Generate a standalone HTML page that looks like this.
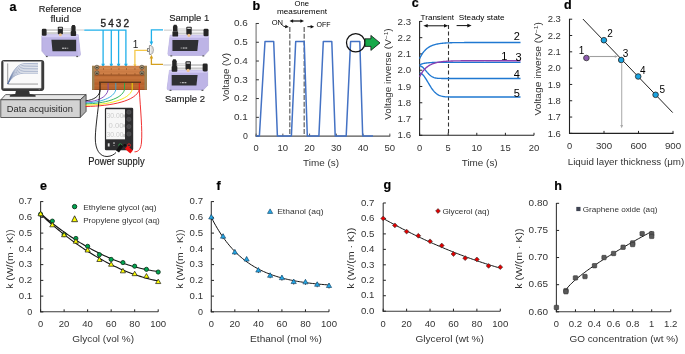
<!DOCTYPE html>
<html><head><meta charset="utf-8"><style>
html,body{margin:0;padding:0;background:#fff;width:685px;height:354px;overflow:hidden}
svg{display:block;will-change:transform;font-family:"Liberation Sans", sans-serif}
</style></head><body>
<svg width="685" height="354" viewBox="0 0 685 354" font-family="Liberation Sans, sans-serif">
<rect width="685" height="354" fill="#fff"/>
<defs>
<g id="pbody">
  <path d="M1,0 L36.9,0 L39.1,19.5 L38.4,21.4 L4.7,21.4 L0.5,16.4 L0.5,1.2 Z" fill="#bdb4e6" stroke="#a096cf" stroke-width="0.5"/>
  <path d="M1,0 L36.9,0 L37.2,2.6 L0.6,2.6 L0.5,1.2 Z" fill="#d4cdf3"/>
  <path d="M36.9,0 L39.1,19.5 L38.4,21.4 L36.6,21.4 L35.2,2.6 L37.2,2.6 Z" fill="#c6beec"/>
  <path d="M10.1,5.1 L34.8,5.1 L34.8,16.5 L11.2,16.5 Z" fill="#2f3033"/>
  <rect x="20.8" y="13" width="1.8" height="1" fill="#e6e6e6"/><rect x="23.2" y="13" width="1.8" height="1" fill="#e6e6e6"/><rect x="25.6" y="13" width="1.4" height="1" fill="#9a9a9a"/>
  <rect x="4.6" y="21.2" width="1.8" height="1.2" fill="#555"/><rect x="35" y="21.2" width="1.8" height="1.2" fill="#555"/>
</g>
<g id="pblocks">
  <line x1="5" y1="-5.0" x2="30" y2="-5.0" stroke="#cfcfcf" stroke-width="1.2"/>
  <line x1="5" y1="-2.0" x2="30" y2="-2.0" stroke="#cfcfcf" stroke-width="1.2"/>
  <line x1="5" y1="-4.2" x2="30" y2="-4.2" stroke="#8a8a8a" stroke-width="0.35"/>
  <line x1="5" y1="-1.2" x2="30" y2="-1.2" stroke="#8a8a8a" stroke-width="0.35"/>
  <rect x="21" y="-5.9" width="8.6" height="2" fill="#e8e8e8" stroke="#aaa" stroke-width="0.3"/>
  <rect x="0.5" y="-6.0" width="4.8" height="7" rx="1.3" fill="#262626"/>
  <rect x="16.5" y="-7.9" width="5.1" height="7.4" rx="0.8" fill="#262626"/>
  <rect x="17.4" y="-7.0" width="3.3" height="1.2" fill="#d0d0d0"/>
  <circle cx="19.1" cy="0.1" r="1.5" fill="#f0c48e"/>
  <rect x="29.4" y="-3.8" width="5.4" height="5.1" rx="0.8" fill="#262626"/>
  <path d="M30,-3.8 L30,-8 L31,-9.8 L33.4,-9.8 L34.3,-8 L34.3,-3.8 Z" fill="#262626"/>
  <line x1="34.8" y1="-4.7" x2="42.8" y2="-4.7" stroke="#d6d6d6" stroke-width="1.3"/>
</g>
</defs>
<!-- Reference fluid text -->
<text x="60.1" y="11.7" font-size="9.5" text-anchor="middle" textLength="42.6" lengthAdjust="spacingAndGlyphs" fill="#222" stroke="#222" stroke-width="0.15">Reference</text>
<text x="59.8" y="21.9" font-size="9.5" text-anchor="middle" textLength="18.7" lengthAdjust="spacingAndGlyphs" fill="#222" stroke="#222" stroke-width="0.15">fluid</text>
<!-- blue lines -->
<path d="M84.2,30.1 L125.9,30.1 L125.9,65" stroke="#1fb0ea" stroke-width="1.3" fill="none"/>
<line x1="103.1" y1="30.1" x2="103.1" y2="65" stroke="#1fb0ea" stroke-width="1.3"/>
<line x1="111.3" y1="30.1" x2="111.3" y2="65" stroke="#1fb0ea" stroke-width="1.3"/>
<line x1="118.6" y1="30.1" x2="118.6" y2="65" stroke="#1fb0ea" stroke-width="1.3"/>
<path d="M101.3,63.8 L104.9,63.8 L103.1,68 Z M109.5,63.8 L113.1,63.8 L111.3,68 Z M116.8,63.8 L120.4,63.8 L118.6,68 Z M124.1,63.8 L127.7,63.8 L125.9,68 Z" fill="#1fb0ea"/>
<text x="103.2" y="27" font-size="10" text-anchor="middle" fill="#222" stroke="#222" stroke-width="0.35">5</text>
<text x="111" y="27" font-size="10" text-anchor="middle" fill="#222" stroke="#222" stroke-width="0.35">4</text>
<text x="118.5" y="27" font-size="10" text-anchor="middle" fill="#222" stroke="#222" stroke-width="0.35">3</text>
<text x="126.4" y="27" font-size="10" text-anchor="middle" fill="#222" stroke="#222" stroke-width="0.35">2</text>
<!-- pumps -->
<use href="#pbody" transform="translate(41.3,34.7)"/>
<use href="#pblocks" transform="translate(41.3,34.7)"/>
<use href="#pbody" transform="translate(209.1,35.2) scale(-1.054,0.95)"/>
<use href="#pblocks" transform="translate(209.1,35.2) scale(-1.054,1.07)"/>
<use href="#pbody" transform="translate(208.2,70.3) scale(-1.05,0.92)"/>
<use href="#pblocks" transform="translate(208.2,70.3) scale(-1.05,1.13)"/>
<text x="189.2" y="21.3" font-size="9.8" text-anchor="middle" textLength="40" lengthAdjust="spacingAndGlyphs" fill="#222" stroke="#222" stroke-width="0.15">Sample 1</text>
<text x="185" y="101.7" font-size="9.8" text-anchor="middle" textLength="40.2" lengthAdjust="spacingAndGlyphs" fill="#222" stroke="#222" stroke-width="0.15">Sample 2</text>
<!-- sample lines -->
<path d="M163,29.8 L151.4,29.8 L151.4,43" stroke="#1fb0ea" stroke-width="1.3" fill="none"/>
<path d="M149.6,41.6 L153.2,41.6 L151.4,45.4 Z" fill="#1fb0ea"/>
<path d="M163,64.3 L151.4,64.3 L151.4,57.5" stroke="#d4a020" stroke-width="1.3" fill="none"/>
<path d="M149.6,58.6 L153.2,58.6 L151.4,54.8 Z" fill="#d4a020"/>
<!-- yellow line 1 -->
<path d="M134.9,67 L134.9,50.3 L148,50.3" stroke="#f5c84a" stroke-width="1.3" fill="none"/>
<text x="135.5" y="48.3" font-size="10" text-anchor="middle" fill="#222">1</text>
<!-- T connector -->
<rect x="147.3" y="48.7" width="2.3" height="2.8" fill="#f2f2f2" stroke="#444" stroke-width="0.6"/>
<path d="M149.4,45.6 L151.2,45.6 Q153.3,46.6 153.3,50 Q153.3,53.4 151.2,54.4 L149.4,54.4 Z" fill="#f4f4f4" stroke="#555" stroke-width="0.6"/>
<line x1="151.3" y1="46.2" x2="151.3" y2="53.8" stroke="#bbb" stroke-width="0.5"/>
<path d="M133.4,64.2 L136.4,64.2 L134.9,67.4 Z" fill="#f5c84a"/>
<!-- monitor -->
<rect x="1.2" y="60.1" width="43" height="30.8" rx="2.8" fill="#3b3b3b"/>
<rect x="3.6" y="61.7" width="37.5" height="26.4" fill="#fafafa" stroke="#cfcfcf" stroke-width="0.4"/>
<path d="M7.7,63.4 L7.7,84.1 L38,84.1" stroke="#606060" stroke-width="0.6" fill="none"/>
<line x1="8" y1="84.1" x2="38" y2="84.1" stroke="#c8c8c8" stroke-width="0.9"/>
<g stroke="#5f75a3" stroke-width="0.5" fill="none">
<path d="M7.8,84 C10.5,76 15,64.5 24,63.6 L38,63.4"/>
<path d="M7.8,84 C10.5,76.5 15,66 24,65.2 L38,65"/>
<path d="M7.8,84 C10.5,77 15,67.5 24,66.8 L38,66.6"/>
<path d="M7.8,84 C10.5,77.5 15,69 24,68.4 L38,68.3"/>
<path d="M7.8,84 C10.5,78 15,70.5 24,70 L38,69.9"/>
<path d="M7.8,84 C10.5,78.5 15,72 24,71.6 L38,71.6"/>
<path d="M7.8,84 C10.5,79 15,73.5 24,73.2 L38,73.2"/>
</g>
<circle cx="39.2" cy="89.6" r="0.6" fill="#888"/>
<path d="M16,90.8 L29,90.8 L29.5,94 L35.6,95.2 L35.6,96.7 L9.8,96.7 L9.8,95.2 L15.5,94 Z" fill="#343434"/>
<!-- DAQ box -->
<path d="M0.8,99.8 L80.2,99.8 L86.1,94.6 L5.6,94.6 Z" fill="#e6e6e6" stroke="#3a3a3a" stroke-width="0.8"/>
<path d="M16,90.8 L29,90.8 L29.5,94 L35.6,95.2 L35.6,96.7 L9.8,96.7 L9.8,95.2 L15.5,94 Z" fill="#343434"/>
<path d="M80.2,99.8 L86.1,94.6 L86.1,111.4 L80.2,117.5 Z" fill="#ababab" stroke="#3a3a3a" stroke-width="0.8"/>
<rect x="0.8" y="99.8" width="79.4" height="17.7" fill="#d3d3d3" stroke="#3a3a3a" stroke-width="0.8"/>
<text x="39.85" y="111.7" font-size="9.4" text-anchor="middle" textLength="66.2" lengthAdjust="spacingAndGlyphs" fill="#2a2a2a">Data acquisition</text>
<!-- manifold -->
<rect x="92" y="65.9" width="54.9" height="23.8" fill="#bf6d35"/>
<rect x="92" y="65.9" width="54.9" height="8.9" fill="#cf8048"/>
<rect x="92" y="67.6" width="54.9" height="1.2" fill="#d8915c" opacity="0.8"/>
<rect x="92" y="71.5" width="54.9" height="0.8" fill="#c67740"/>
<rect x="92" y="74.6" width="54.9" height="0.9" fill="#8e4c22"/>
<rect x="92" y="77.5" width="54.9" height="1" fill="#cc7c44" opacity="0.8"/>
<rect x="92" y="82.4" width="54.9" height="7.3" fill="#b8632c"/>
<rect x="99" y="81.7" width="42" height="1" fill="#3a2412"/>
<rect x="92" y="85.5" width="54.9" height="0.8" fill="#c77440" opacity="0.8"/>
<rect x="92" y="89" width="54.9" height="0.8" fill="#8e4c22"/>
<rect x="92" y="65.9" width="2.4" height="23.8" fill="#9c8456"/>
<rect x="144.5" y="65.9" width="2.4" height="23.8" fill="#9c8456"/>
<circle cx="96.9" cy="67.3" r="2.1" fill="#a09478" stroke="#4a4030" stroke-width="0.6"/><ellipse cx="96.9" cy="67.6" rx="1.1" ry="0.7" fill="#3d3426"/>
<circle cx="96.9" cy="72.9" r="2.1" fill="#a09478" stroke="#4a4030" stroke-width="0.6"/><ellipse cx="96.9" cy="73.2" rx="1.1" ry="0.7" fill="#3d3426"/>
<circle cx="141.9" cy="67.3" r="2.1" fill="#a09478" stroke="#4a4030" stroke-width="0.6"/><ellipse cx="141.9" cy="67.6" rx="1.1" ry="0.7" fill="#3d3426"/>
<circle cx="141.9" cy="72.9" r="2.1" fill="#a09478" stroke="#4a4030" stroke-width="0.6"/><ellipse cx="141.9" cy="73.2" rx="1.1" ry="0.7" fill="#3d3426"/>

<g fill="#7a3d12"><rect x="103" y="68.5" width="0.9" height="0.9"/><rect x="110.8" y="68.5" width="0.9" height="0.9"/><rect x="118.5" y="68.5" width="0.9" height="0.9"/><rect x="126" y="68.5" width="0.9" height="0.9"/><rect x="134.5" y="68.5" width="0.9" height="0.9"/>
<rect x="103" y="73.5" width="0.9" height="0.9"/><rect x="110.8" y="73.5" width="0.9" height="0.9"/><rect x="118.5" y="73.5" width="0.9" height="0.9"/><rect x="126" y="73.5" width="0.9" height="0.9"/><rect x="134.5" y="73.5" width="0.9" height="0.9"/></g>
<!-- rainbow wires -->
<g fill="none" stroke-width="0.9">
<path d="M100,83 L100,89.7 C100,96 94,100 85.7,100.8" stroke="#111"/>
<path d="M108.1,83 L108.1,89.7 C107,97 98,101.5 85.7,101.9" stroke="#7a3fb5"/>
<path d="M115.8,83 L115.8,89.7 C114,98 100,102.5 85.7,102.9" stroke="#2aa9e0"/>
<path d="M124.5,83 L124.5,89.7 C122,99 104,103.5 85.7,103.9" stroke="#1fae4a"/>
<path d="M132.2,83 L132.2,89.7 C129,100 108,104.8 85.7,105.2" stroke="#f2e600"/>
<path d="M139.3,83 L139.3,89.7 C136,101 112,106 85.7,106.5" stroke="#ee1c1c"/>
</g>
<!-- power supply -->
<rect x="104.9" y="107.8" width="28.3" height="42.4" rx="1.3" fill="#2d2d2f"/>
<rect x="106.1" y="109.2" width="18.9" height="30.1" fill="#f7f7f7"/>
<g font-size="8" fill="#cdcdcd" font-family="Liberation Sans, sans-serif">
<text x="106.5" y="117.8" textLength="17" lengthAdjust="spacingAndGlyphs">30.00</text>
<text x="108.6" y="127.6" textLength="15" lengthAdjust="spacingAndGlyphs">0.00</text>
<text x="106.5" y="137.4" textLength="17" lengthAdjust="spacingAndGlyphs">30.00</text>
</g>
<g fill="#a8a8a8"><rect x="123.6" y="114.5" width="1" height="3"/><rect x="123.6" y="124.3" width="1" height="3"/><rect x="123.6" y="134.1" width="1" height="3"/></g>
<g fill="#47474a" stroke="#5c5c5e" stroke-width="0.5">
<circle cx="128.9" cy="112.2" r="2.1"/><circle cx="128.9" cy="119.3" r="2.1"/><circle cx="128.9" cy="126.6" r="2.1"/><circle cx="128.9" cy="134" r="2.1"/>
</g>
<rect x="107.8" y="143.3" width="1.8" height="3.2" fill="#e0e0e0"/>
<rect x="113" y="142.4" width="2" height="1.3" fill="#aaa"/>
<rect x="113" y="145.2" width="2" height="0.8" fill="#777"/>
<circle cx="120.3" cy="145.3" r="1.5" fill="none" stroke="#2c9b4a" stroke-width="0.9"/>
<circle cx="124.8" cy="145.3" r="1.4" fill="#111"/>
<circle cx="129" cy="145.3" r="1.5" fill="none" stroke="#e02020" stroke-width="0.9"/>
<!-- black and red power wires -->
<path d="M100,89.7 C99,105 95.5,125 95.3,138 C95.2,150 100,156.6 107,156.5 C111.5,156.3 114,154.5 116,152.5" fill="none" stroke="#111" stroke-width="0.9"/>
<path d="M116.0,150.5 L120.3,144.3 L123.3,146.3 L119.0,152.5 Z" fill="#111"/>
<path d="M139.3,89.7 C140.5,110 142.5,130 141.5,142 C141,149 138.5,152 134.5,151.8" fill="none" stroke="#ee1c1c" stroke-width="0.9"/>
<path d="M127.5,145.7 L132.9,150.5 L130.3,153.5 L124.9,148.7 Z" fill="#ee1111"/>
<text x="116.4" y="164.8" font-size="10.2" text-anchor="middle" textLength="56.4" lengthAdjust="spacingAndGlyphs" fill="#222" stroke="#222" stroke-width="0.15">Power supply</text>

<text x="9.60" y="10.70" font-size="12.5" font-weight="bold" fill="#000" stroke="#000" stroke-width="0.2" stroke-linejoin="round">a</text>
<text x="252.60" y="9.80" font-size="12.5" font-weight="bold" fill="#000" stroke="#000" stroke-width="0.2" stroke-linejoin="round">b</text>
<text x="411.80" y="7.30" font-size="12.5" font-weight="bold" fill="#000" stroke="#000" stroke-width="0.2" stroke-linejoin="round">c</text>
<text x="563.90" y="8.90" font-size="12.5" font-weight="bold" fill="#000" stroke="#000" stroke-width="0.2" stroke-linejoin="round">d</text>
<text x="39.90" y="190.30" font-size="12.5" font-weight="bold" fill="#000" stroke="#000" stroke-width="0.2" stroke-linejoin="round">e</text>
<text x="216.60" y="189.70" font-size="12.5" font-weight="bold" fill="#000" stroke="#000" stroke-width="0.2" stroke-linejoin="round">f</text>
<text x="383.40" y="189.00" font-size="12.5" font-weight="bold" fill="#000" stroke="#000" stroke-width="0.2" stroke-linejoin="round">g</text>
<text x="554.20" y="190.30" font-size="12.5" font-weight="bold" fill="#000" stroke="#000" stroke-width="0.2" stroke-linejoin="round">h</text>
<line x1="256.10" y1="23.00" x2="256.10" y2="136.60" stroke="#8a8a8a" stroke-width="1.3"/>
<line x1="255.50" y1="136.10" x2="390.20" y2="136.10" stroke="#555" stroke-width="1.1"/>
<line x1="256.10" y1="136.10" x2="258.90" y2="136.10" stroke="#333" stroke-width="1"/>
<text x="247.90" y="138.90" font-size="9" text-anchor="end" fill="#333" textLength="4.90" lengthAdjust="spacingAndGlyphs">0</text>
<line x1="256.10" y1="117.33" x2="258.90" y2="117.33" stroke="#333" stroke-width="1"/>
<text x="247.90" y="120.13" font-size="9" text-anchor="end" fill="#333" textLength="13.80" lengthAdjust="spacingAndGlyphs">0.1</text>
<line x1="256.10" y1="98.56" x2="258.90" y2="98.56" stroke="#333" stroke-width="1"/>
<text x="247.90" y="101.36" font-size="9" text-anchor="end" fill="#333" textLength="13.80" lengthAdjust="spacingAndGlyphs">0.2</text>
<line x1="256.10" y1="79.79" x2="258.90" y2="79.79" stroke="#333" stroke-width="1"/>
<text x="247.90" y="82.59" font-size="9" text-anchor="end" fill="#333" textLength="13.80" lengthAdjust="spacingAndGlyphs">0.3</text>
<line x1="256.10" y1="61.02" x2="258.90" y2="61.02" stroke="#333" stroke-width="1"/>
<text x="247.90" y="63.82" font-size="9" text-anchor="end" fill="#333" textLength="13.80" lengthAdjust="spacingAndGlyphs">0.4</text>
<line x1="256.10" y1="42.25" x2="258.90" y2="42.25" stroke="#333" stroke-width="1"/>
<text x="247.90" y="45.05" font-size="9" text-anchor="end" fill="#333" textLength="13.80" lengthAdjust="spacingAndGlyphs">0.5</text>
<line x1="256.10" y1="23.48" x2="258.90" y2="23.48" stroke="#333" stroke-width="1"/>
<text x="247.90" y="26.28" font-size="9" text-anchor="end" fill="#333" textLength="13.80" lengthAdjust="spacingAndGlyphs">0.6</text>
<line x1="256.10" y1="136.10" x2="256.10" y2="133.60" stroke="#555" stroke-width="1"/>
<text x="256.10" y="150.80" font-size="9" text-anchor="middle" fill="#333" textLength="5.20" lengthAdjust="spacingAndGlyphs">0</text>
<line x1="282.85" y1="136.10" x2="282.85" y2="133.60" stroke="#555" stroke-width="1"/>
<text x="282.85" y="150.80" font-size="9" text-anchor="middle" fill="#333" textLength="10.60" lengthAdjust="spacingAndGlyphs">10</text>
<line x1="309.60" y1="136.10" x2="309.60" y2="133.60" stroke="#555" stroke-width="1"/>
<text x="309.60" y="150.80" font-size="9" text-anchor="middle" fill="#333" textLength="10.60" lengthAdjust="spacingAndGlyphs">20</text>
<line x1="336.35" y1="136.10" x2="336.35" y2="133.60" stroke="#555" stroke-width="1"/>
<text x="336.35" y="150.80" font-size="9" text-anchor="middle" fill="#333" textLength="10.60" lengthAdjust="spacingAndGlyphs">30</text>
<line x1="363.10" y1="136.10" x2="363.10" y2="133.60" stroke="#555" stroke-width="1"/>
<text x="363.10" y="150.80" font-size="9" text-anchor="middle" fill="#333" textLength="10.60" lengthAdjust="spacingAndGlyphs">40</text>
<line x1="389.85" y1="136.10" x2="389.85" y2="133.60" stroke="#555" stroke-width="1"/>
<text x="389.85" y="150.80" font-size="9" text-anchor="middle" fill="#333" textLength="10.60" lengthAdjust="spacingAndGlyphs">50</text>
<text x="321.10" y="165.50" font-size="9.3" text-anchor="middle" fill="#333" textLength="36.00" lengthAdjust="spacingAndGlyphs">Time (s)</text>
<text x="229.00" y="77.00" font-size="9" text-anchor="middle" fill="#333" textLength="48.00" lengthAdjust="spacingAndGlyphs" transform="rotate(-90 229.00 77.00)">Voltage (V)</text>
<line x1="289.80" y1="27.00" x2="289.80" y2="136.10" stroke="#6b6b6b" stroke-width="1.3" stroke-dasharray="5,1.8"/>
<line x1="304.20" y1="27.00" x2="304.20" y2="136.10" stroke="#6b6b6b" stroke-width="1.3" stroke-dasharray="5,1.8"/>
<path d="M256.10,135.90 L259.40,135.90 L265.00,41.50 L273.70,41.50 L277.40,135.90 L291.40,135.90 L295.70,41.50 L304.20,41.50 L307.30,135.90 L318.90,135.90 L323.30,41.50 L331.80,41.50 L335.20,135.90 L346.20,135.90 L350.60,41.50 L359.80,41.50 L362.70,135.90 L373.00,135.90" stroke="#4472C4" stroke-width="1.5" fill="none" stroke-linejoin="round"/>
<text x="301.70" y="6.20" font-size="7.5" text-anchor="middle" textLength="14.50" lengthAdjust="spacingAndGlyphs">One</text>
<text x="302.00" y="14.30" font-size="7.5" text-anchor="middle" textLength="50.00" lengthAdjust="spacingAndGlyphs">measurement</text>
<text x="271.70" y="25.30" font-size="7.5" textLength="11.30" lengthAdjust="spacingAndGlyphs">ON</text>
<text x="316.60" y="26.80" font-size="7.5" textLength="14.00" lengthAdjust="spacingAndGlyphs">OFF</text>
<path d="M282.2,24.8 L283.6,26.4 L285.5,26.6" stroke="#111" stroke-width="0.9" fill="none"/>
<path d="M288.80,27.00 L284.97,28.25 L285.51,24.69 Z" stroke="none" stroke-width="1" fill="#111"/>
<line x1="292.00" y1="21.00" x2="301.50" y2="21.00" stroke="#111" stroke-width="1.25"/>
<path d="M289.50,21.00 L293.10,19.20 L293.10,22.80 Z" stroke="none" stroke-width="1" fill="#111"/>
<path d="M304.00,21.00 L300.40,22.80 L300.40,19.20 Z" stroke="none" stroke-width="1" fill="#111"/>
<line x1="307.40" y1="26.70" x2="311.50" y2="26.70" stroke="#111" stroke-width="1.0"/>
<path d="M314.20,26.70 L310.60,28.50 L310.60,24.90 Z" stroke="none" stroke-width="1" fill="#111"/>
<circle cx="355.70" cy="42.70" r="9.2" fill="none" stroke="#111" stroke-width="1.25"/>
<path d="M365.0,38.8 L370.9,38.8 L370.9,35.4 L380.0,42.9 L370.9,50.4 L370.9,46.4 L365.0,46.4 Z" stroke="#111" stroke-width="0.8" fill="#17a94a" stroke-linejoin="miter"/>
<line x1="419.60" y1="21.00" x2="419.60" y2="135.80" stroke="#222" stroke-width="1.1"/>
<line x1="419.10" y1="135.30" x2="534.00" y2="135.30" stroke="#222" stroke-width="1.1"/>
<line x1="419.60" y1="135.29" x2="422.30" y2="135.29" stroke="#222" stroke-width="1"/>
<text x="411.10" y="138.49" font-size="9" text-anchor="end" fill="#333" textLength="13.50" lengthAdjust="spacingAndGlyphs">1.6</text>
<line x1="419.60" y1="119.02" x2="422.30" y2="119.02" stroke="#222" stroke-width="1"/>
<text x="411.10" y="122.22" font-size="9" text-anchor="end" fill="#333" textLength="13.50" lengthAdjust="spacingAndGlyphs">1.7</text>
<line x1="419.60" y1="102.75" x2="422.30" y2="102.75" stroke="#222" stroke-width="1"/>
<text x="411.10" y="105.95" font-size="9" text-anchor="end" fill="#333" textLength="13.50" lengthAdjust="spacingAndGlyphs">1.8</text>
<line x1="419.60" y1="86.48" x2="422.30" y2="86.48" stroke="#222" stroke-width="1"/>
<text x="411.10" y="89.68" font-size="9" text-anchor="end" fill="#333" textLength="13.50" lengthAdjust="spacingAndGlyphs">1.9</text>
<line x1="419.60" y1="70.21" x2="422.30" y2="70.21" stroke="#222" stroke-width="1"/>
<text x="411.10" y="73.41" font-size="9" text-anchor="end" fill="#333" textLength="13.50" lengthAdjust="spacingAndGlyphs">2.0</text>
<line x1="419.60" y1="53.94" x2="422.30" y2="53.94" stroke="#222" stroke-width="1"/>
<text x="411.10" y="57.14" font-size="9" text-anchor="end" fill="#333" textLength="13.50" lengthAdjust="spacingAndGlyphs">2.1</text>
<line x1="419.60" y1="37.67" x2="422.30" y2="37.67" stroke="#222" stroke-width="1"/>
<text x="411.10" y="40.87" font-size="9" text-anchor="end" fill="#333" textLength="13.50" lengthAdjust="spacingAndGlyphs">2.2</text>
<line x1="419.60" y1="21.40" x2="422.30" y2="21.40" stroke="#222" stroke-width="1"/>
<text x="411.10" y="24.60" font-size="9" text-anchor="end" fill="#333" textLength="13.50" lengthAdjust="spacingAndGlyphs">2.3</text>
<line x1="419.60" y1="135.30" x2="419.60" y2="132.80" stroke="#222" stroke-width="1"/>
<text x="419.60" y="150.90" font-size="9" text-anchor="middle" fill="#333" textLength="5.20" lengthAdjust="spacingAndGlyphs">0</text>
<line x1="448.20" y1="135.30" x2="448.20" y2="132.80" stroke="#222" stroke-width="1"/>
<text x="448.20" y="150.90" font-size="9" text-anchor="middle" fill="#333" textLength="5.20" lengthAdjust="spacingAndGlyphs">5</text>
<line x1="476.80" y1="135.30" x2="476.80" y2="132.80" stroke="#222" stroke-width="1"/>
<text x="476.80" y="150.90" font-size="9" text-anchor="middle" fill="#333" textLength="10.60" lengthAdjust="spacingAndGlyphs">10</text>
<line x1="505.40" y1="135.30" x2="505.40" y2="132.80" stroke="#222" stroke-width="1"/>
<text x="505.40" y="150.90" font-size="9" text-anchor="middle" fill="#333" textLength="10.60" lengthAdjust="spacingAndGlyphs">15</text>
<line x1="534.00" y1="135.30" x2="534.00" y2="132.80" stroke="#222" stroke-width="1"/>
<text x="534.00" y="150.90" font-size="9" text-anchor="middle" fill="#333" textLength="10.60" lengthAdjust="spacingAndGlyphs">20</text>
<text x="479.70" y="165.60" font-size="9.3" text-anchor="middle" fill="#333" textLength="36.00" lengthAdjust="spacingAndGlyphs">Time (s)</text>
<text x="391.30" y="74.10" font-size="9" text-anchor="middle" fill="#333" textLength="91.50" lengthAdjust="spacingAndGlyphs" transform="rotate(-90 391.30 74.10)">Voltage inverse (V<tspan font-size="6" dy="-3">−1</tspan><tspan dy="3">)</tspan></text>
<line x1="448.50" y1="25.00" x2="448.50" y2="135.30" stroke="#333" stroke-width="1.1" stroke-dasharray="4,2.5"/>
<text x="420.60" y="19.80" font-size="8" textLength="33.30" lengthAdjust="spacingAndGlyphs">Transient</text>
<text x="458.80" y="19.80" font-size="8" textLength="45.80" lengthAdjust="spacingAndGlyphs">Steady state</text>
<line x1="426.00" y1="25.80" x2="445.80" y2="25.80" stroke="#111" stroke-width="1.0"/>
<path d="M423.40,25.80 L427.70,23.99 L427.70,27.61 Z" stroke="none" stroke-width="1" fill="#111"/>
<path d="M448.30,25.80 L444.00,27.61 L444.00,23.99 Z" stroke="none" stroke-width="1" fill="#111"/>
<line x1="456.60" y1="25.60" x2="468.50" y2="25.60" stroke="#111" stroke-width="1.0"/>
<path d="M471.60,25.60 L467.30,27.41 L467.30,23.79 Z" stroke="none" stroke-width="1" fill="#111"/>
<path d="M419.60,58.60 L420.45,56.88 L421.30,55.34 L422.14,53.97 L422.99,52.74 L423.84,51.65 L424.69,50.67 L425.54,49.80 L426.38,49.02 L427.23,48.32 L428.08,47.70 L428.93,47.14 L429.77,46.65 L430.62,46.20 L431.47,45.81 L432.32,45.45 L433.17,45.14 L434.01,44.86 L434.86,44.60 L435.71,44.38 L436.56,44.18 L437.41,44.00 L438.25,43.84 L439.10,43.70 L439.95,43.57 L440.80,43.45 L441.65,43.35 L442.49,43.26 L443.34,43.18 L444.19,43.11 L445.04,43.04 L445.88,42.98 L446.73,42.93 L447.58,42.89 L448.43,42.84 L449.28,42.81 L450.12,42.77 L450.97,42.75 L451.82,42.72 L452.67,42.70 L453.52,42.67 L454.36,42.66 L455.21,42.64 L456.06,42.62 L456.91,42.61 L457.76,42.60 L458.60,42.59 L459.45,42.58 L460.30,42.57 L461.15,42.56 L461.99,42.56 L462.84,42.55 L463.69,42.55 L464.54,42.54 L465.39,42.54 L466.23,42.53 L467.08,42.53 L467.93,42.53 L468.78,42.52 L469.63,42.52 L470.47,42.52 L471.32,42.52 L472.17,42.51 L473.02,42.51 L473.87,42.51 L474.71,42.51 L475.56,42.51 L476.41,42.51 L477.26,42.51 L478.11,42.51 L478.95,42.51 L479.80,42.51 L480.65,42.50 L481.50,42.50 L482.34,42.50 L483.19,42.50 L484.04,42.50 L484.89,42.50 L485.74,42.50 L486.58,42.50 L487.43,42.50 L488.28,42.50 L489.13,42.50 L489.98,42.50 L490.82,42.50 L491.67,42.50 L492.52,42.50 L493.37,42.50 L494.22,42.50 L495.06,42.50 L495.91,42.50 L496.76,42.50 L497.61,42.50 L498.45,42.50 L499.30,42.50 L500.15,42.50 L501.00,42.50 L501.85,42.50 L502.69,42.50 L503.54,42.50 L504.39,42.50 L505.24,42.50 L506.09,42.50 L506.93,42.50 L507.78,42.50 L508.63,42.50 L509.48,42.50 L510.33,42.50 L511.17,42.50 L512.02,42.50 L512.87,42.50 L513.72,42.50 L514.56,42.50 L515.41,42.50 L516.26,42.50 L517.11,42.50 L517.96,42.50 L518.80,42.50 L519.65,42.50 L520.50,42.50" stroke="#1f78d1" stroke-width="1.35" fill="none"/>
<path d="M419.60,65.00 L420.45,64.58 L421.30,64.22 L422.14,63.92 L422.99,63.67 L423.84,63.46 L424.69,63.28 L425.54,63.12 L426.38,63.00 L427.23,62.89 L428.08,62.80 L428.93,62.72 L429.77,62.65 L430.62,62.60 L431.47,62.55 L432.32,62.51 L433.17,62.48 L434.01,62.45 L434.86,62.43 L435.71,62.41 L436.56,62.39 L437.41,62.38 L438.25,62.36 L439.10,62.35 L439.95,62.35 L440.80,62.34 L441.65,62.33 L442.49,62.33 L443.34,62.32 L444.19,62.32 L445.04,62.32 L445.88,62.31 L446.73,62.31 L447.58,62.31 L448.43,62.31 L449.28,62.31 L450.12,62.31 L450.97,62.31 L451.82,62.30 L452.67,62.30 L453.52,62.30 L454.36,62.30 L455.21,62.30 L456.06,62.30 L456.91,62.30 L457.76,62.30 L458.60,62.30 L459.45,62.30 L460.30,62.30 L461.15,62.30 L461.99,62.30 L462.84,62.30 L463.69,62.30 L464.54,62.30 L465.39,62.30 L466.23,62.30 L467.08,62.30 L467.93,62.30 L468.78,62.30 L469.63,62.30 L470.47,62.30 L471.32,62.30 L472.17,62.30 L473.02,62.30 L473.87,62.30 L474.71,62.30 L475.56,62.30 L476.41,62.30 L477.26,62.30 L478.11,62.30 L478.95,62.30 L479.80,62.30 L480.65,62.30 L481.50,62.30 L482.34,62.30 L483.19,62.30 L484.04,62.30 L484.89,62.30 L485.74,62.30 L486.58,62.30 L487.43,62.30 L488.28,62.30 L489.13,62.30 L489.98,62.30 L490.82,62.30 L491.67,62.30 L492.52,62.30 L493.37,62.30 L494.22,62.30 L495.06,62.30 L495.91,62.30 L496.76,62.30 L497.61,62.30 L498.45,62.30 L499.30,62.30 L500.15,62.30 L501.00,62.30 L501.85,62.30 L502.69,62.30 L503.54,62.30 L504.39,62.30 L505.24,62.30 L506.09,62.30 L506.93,62.30 L507.78,62.30 L508.63,62.30 L509.48,62.30 L510.33,62.30 L511.17,62.30 L512.02,62.30 L512.87,62.30 L513.72,62.30 L514.56,62.30 L515.41,62.30 L516.26,62.30 L517.11,62.30 L517.96,62.30 L518.80,62.30 L519.65,62.30 L520.50,62.30" stroke="#1f78d1" stroke-width="1.35" fill="none"/>
<path d="M419.60,65.90 L420.45,66.01 L421.30,66.34 L422.14,66.87 L422.99,67.57 L423.84,68.41 L424.69,69.35 L425.54,70.34 L426.38,71.36 L427.23,72.36 L428.08,73.31 L428.93,74.20 L429.77,74.99 L430.62,75.69 L431.47,76.29 L432.32,76.79 L433.17,77.20 L434.01,77.53 L434.86,77.79 L435.71,77.99 L436.56,78.14 L437.41,78.25 L438.25,78.33 L439.10,78.38 L439.95,78.42 L440.80,78.45 L441.65,78.47 L442.49,78.48 L443.34,78.49 L444.19,78.49 L445.04,78.50 L445.88,78.50 L446.73,78.50 L447.58,78.50 L448.43,78.50 L449.28,78.50 L450.12,78.50 L450.97,78.50 L451.82,78.50 L452.67,78.50 L453.52,78.50 L454.36,78.50 L455.21,78.50 L456.06,78.50 L456.91,78.50 L457.76,78.50 L458.60,78.50 L459.45,78.50 L460.30,78.50 L461.15,78.50 L461.99,78.50 L462.84,78.50 L463.69,78.50 L464.54,78.50 L465.39,78.50 L466.23,78.50 L467.08,78.50 L467.93,78.50 L468.78,78.50 L469.63,78.50 L470.47,78.50 L471.32,78.50 L472.17,78.50 L473.02,78.50 L473.87,78.50 L474.71,78.50 L475.56,78.50 L476.41,78.50 L477.26,78.50 L478.11,78.50 L478.95,78.50 L479.80,78.50 L480.65,78.50 L481.50,78.50 L482.34,78.50 L483.19,78.50 L484.04,78.50 L484.89,78.50 L485.74,78.50 L486.58,78.50 L487.43,78.50 L488.28,78.50 L489.13,78.50 L489.98,78.50 L490.82,78.50 L491.67,78.50 L492.52,78.50 L493.37,78.50 L494.22,78.50 L495.06,78.50 L495.91,78.50 L496.76,78.50 L497.61,78.50 L498.45,78.50 L499.30,78.50 L500.15,78.50 L501.00,78.50 L501.85,78.50 L502.69,78.50 L503.54,78.50 L504.39,78.50 L505.24,78.50 L506.09,78.50 L506.93,78.50 L507.78,78.50 L508.63,78.50 L509.48,78.50 L510.33,78.50 L511.17,78.50 L512.02,78.50 L512.87,78.50 L513.72,78.50 L514.56,78.50 L515.41,78.50 L516.26,78.50 L517.11,78.50 L517.96,78.50 L518.80,78.50 L519.65,78.50 L520.50,78.50" stroke="#1f78d1" stroke-width="1.35" fill="none"/>
<path d="M419.60,73.10 L420.45,73.22 L421.30,73.57 L422.14,74.15 L422.99,74.93 L423.84,75.90 L424.69,77.03 L425.54,78.29 L426.38,79.64 L427.23,81.05 L428.08,82.49 L428.93,83.94 L429.77,85.35 L430.62,86.72 L431.47,88.02 L432.32,89.23 L433.17,90.34 L434.01,91.35 L434.86,92.26 L435.71,93.06 L436.56,93.76 L437.41,94.36 L438.25,94.87 L439.10,95.30 L439.95,95.65 L440.80,95.95 L441.65,96.18 L442.49,96.37 L443.34,96.52 L444.19,96.64 L445.04,96.73 L445.88,96.80 L446.73,96.86 L447.58,96.90 L448.43,96.93 L449.28,96.95 L450.12,96.96 L450.97,96.97 L451.82,96.98 L452.67,96.99 L453.52,96.99 L454.36,96.99 L455.21,97.00 L456.06,97.00 L456.91,97.00 L457.76,97.00 L458.60,97.00 L459.45,97.00 L460.30,97.00 L461.15,97.00 L461.99,97.00 L462.84,97.00 L463.69,97.00 L464.54,97.00 L465.39,97.00 L466.23,97.00 L467.08,97.00 L467.93,97.00 L468.78,97.00 L469.63,97.00 L470.47,97.00 L471.32,97.00 L472.17,97.00 L473.02,97.00 L473.87,97.00 L474.71,97.00 L475.56,97.00 L476.41,97.00 L477.26,97.00 L478.11,97.00 L478.95,97.00 L479.80,97.00 L480.65,97.00 L481.50,97.00 L482.34,97.00 L483.19,97.00 L484.04,97.00 L484.89,97.00 L485.74,97.00 L486.58,97.00 L487.43,97.00 L488.28,97.00 L489.13,97.00 L489.98,97.00 L490.82,97.00 L491.67,97.00 L492.52,97.00 L493.37,97.00 L494.22,97.00 L495.06,97.00 L495.91,97.00 L496.76,97.00 L497.61,97.00 L498.45,97.00 L499.30,97.00 L500.15,97.00 L501.00,97.00 L501.85,97.00 L502.69,97.00 L503.54,97.00 L504.39,97.00 L505.24,97.00 L506.09,97.00 L506.93,97.00 L507.78,97.00 L508.63,97.00 L509.48,97.00 L510.33,97.00 L511.17,97.00 L512.02,97.00 L512.87,97.00 L513.72,97.00 L514.56,97.00 L515.41,97.00 L516.26,97.00 L517.11,97.00 L517.96,97.00 L518.80,97.00 L519.65,97.00 L520.50,97.00" stroke="#1f78d1" stroke-width="1.35" fill="none"/>
<path d="M419.60,76.70 L420.45,75.09 L421.30,73.64 L422.14,72.34 L422.99,71.17 L423.84,70.12 L424.69,69.17 L425.54,68.32 L426.38,67.55 L427.23,66.86 L428.08,66.24 L428.93,65.69 L429.77,65.19 L430.62,64.73 L431.47,64.33 L432.32,63.96 L433.17,63.64 L434.01,63.34 L434.86,63.07 L435.71,62.84 L436.56,62.62 L437.41,62.43 L438.25,62.25 L439.10,62.10 L439.95,61.96 L440.80,61.83 L441.65,61.72 L442.49,61.61 L443.34,61.52 L444.19,61.44 L445.04,61.37 L445.88,61.30 L446.73,61.24 L447.58,61.18 L448.43,61.14 L449.28,61.09 L450.12,61.05 L450.97,61.02 L451.82,60.99 L452.67,60.96 L453.52,60.93 L454.36,60.91 L455.21,60.89 L456.06,60.87 L456.91,60.85 L457.76,60.84 L458.60,60.82 L459.45,60.81 L460.30,60.80 L461.15,60.79 L461.99,60.78 L462.84,60.77 L463.69,60.76 L464.54,60.76 L465.39,60.75 L466.23,60.75 L467.08,60.74 L467.93,60.74 L468.78,60.73 L469.63,60.73 L470.47,60.73 L471.32,60.72 L472.17,60.72 L473.02,60.72 L473.87,60.72 L474.71,60.72 L475.56,60.71 L476.41,60.71 L477.26,60.71 L478.11,60.71 L478.95,60.71 L479.80,60.71 L480.65,60.71 L481.50,60.71 L482.34,60.71 L483.19,60.71 L484.04,60.71 L484.89,60.70 L485.74,60.70 L486.58,60.70 L487.43,60.70 L488.28,60.70 L489.13,60.70 L489.98,60.70 L490.82,60.70 L491.67,60.70 L492.52,60.70 L493.37,60.70 L494.22,60.70 L495.06,60.70 L495.91,60.70 L496.76,60.70 L497.61,60.70 L498.45,60.70 L499.30,60.70 L500.15,60.70 L501.00,60.70 L501.85,60.70 L502.69,60.70 L503.54,60.70 L504.39,60.70 L505.24,60.70 L506.09,60.70 L506.93,60.70 L507.78,60.70 L508.63,60.70 L509.48,60.70 L510.33,60.70 L511.17,60.70 L512.02,60.70 L512.87,60.70 L513.72,60.70 L514.56,60.70 L515.41,60.70 L516.26,60.70 L517.11,60.70 L517.96,60.70 L518.80,60.70 L519.65,60.70 L520.50,60.70" stroke="#8a3fb0" stroke-width="1.35" fill="none"/>
<text x="516.70" y="40.10" font-size="11" text-anchor="middle">2</text>
<text x="504.30" y="60.40" font-size="11" text-anchor="middle">1</text>
<text x="518.50" y="60.70" font-size="11" text-anchor="middle">3</text>
<text x="516.70" y="77.90" font-size="11" text-anchor="middle">4</text>
<text x="516.80" y="97.10" font-size="11" text-anchor="middle">5</text>
<line x1="569.50" y1="18.80" x2="569.50" y2="133.90" stroke="#222" stroke-width="1.1"/>
<line x1="569.00" y1="133.40" x2="673.50" y2="133.40" stroke="#222" stroke-width="1.1"/>
<line x1="569.50" y1="133.37" x2="572.20" y2="133.37" stroke="#222" stroke-width="1"/>
<text x="560.90" y="136.57" font-size="9" text-anchor="end" fill="#333" textLength="13.20" lengthAdjust="spacingAndGlyphs">1.6</text>
<line x1="569.50" y1="117.06" x2="572.20" y2="117.06" stroke="#222" stroke-width="1"/>
<text x="560.90" y="120.26" font-size="9" text-anchor="end" fill="#333" textLength="13.20" lengthAdjust="spacingAndGlyphs">1.7</text>
<line x1="569.50" y1="100.75" x2="572.20" y2="100.75" stroke="#222" stroke-width="1"/>
<text x="560.90" y="103.95" font-size="9" text-anchor="end" fill="#333" textLength="13.20" lengthAdjust="spacingAndGlyphs">1.8</text>
<line x1="569.50" y1="84.44" x2="572.20" y2="84.44" stroke="#222" stroke-width="1"/>
<text x="560.90" y="87.64" font-size="9" text-anchor="end" fill="#333" textLength="13.20" lengthAdjust="spacingAndGlyphs">1.9</text>
<line x1="569.50" y1="68.13" x2="572.20" y2="68.13" stroke="#222" stroke-width="1"/>
<text x="560.90" y="71.33" font-size="9" text-anchor="end" fill="#333" textLength="13.20" lengthAdjust="spacingAndGlyphs">2.0</text>
<line x1="569.50" y1="51.82" x2="572.20" y2="51.82" stroke="#222" stroke-width="1"/>
<text x="560.90" y="55.02" font-size="9" text-anchor="end" fill="#333" textLength="13.20" lengthAdjust="spacingAndGlyphs">2.1</text>
<line x1="569.50" y1="35.51" x2="572.20" y2="35.51" stroke="#222" stroke-width="1"/>
<text x="560.90" y="38.71" font-size="9" text-anchor="end" fill="#333" textLength="13.20" lengthAdjust="spacingAndGlyphs">2.2</text>
<line x1="569.50" y1="19.20" x2="572.20" y2="19.20" stroke="#222" stroke-width="1"/>
<text x="560.90" y="22.40" font-size="9" text-anchor="end" fill="#333" textLength="13.20" lengthAdjust="spacingAndGlyphs">2.3</text>
<line x1="569.50" y1="133.40" x2="569.50" y2="130.90" stroke="#222" stroke-width="1"/>
<text x="569.50" y="149.20" font-size="9" text-anchor="middle" fill="#333" textLength="5.20" lengthAdjust="spacingAndGlyphs">0</text>
<line x1="604.00" y1="133.40" x2="604.00" y2="130.90" stroke="#222" stroke-width="1"/>
<text x="604.00" y="149.20" font-size="9" text-anchor="middle" fill="#333" textLength="16.20" lengthAdjust="spacingAndGlyphs">300</text>
<line x1="638.50" y1="133.40" x2="638.50" y2="130.90" stroke="#222" stroke-width="1"/>
<text x="638.50" y="149.20" font-size="9" text-anchor="middle" fill="#333" textLength="16.20" lengthAdjust="spacingAndGlyphs">600</text>
<line x1="673.00" y1="133.40" x2="673.00" y2="130.90" stroke="#222" stroke-width="1"/>
<text x="673.00" y="149.20" font-size="9" text-anchor="middle" fill="#333" textLength="16.20" lengthAdjust="spacingAndGlyphs">900</text>
<text x="626.00" y="165.00" font-size="9" text-anchor="middle" fill="#333" textLength="116.50" lengthAdjust="spacingAndGlyphs">Liquid layer thickness (μm)</text>
<text x="541.20" y="68.80" font-size="9" text-anchor="middle" fill="#333" textLength="93.50" lengthAdjust="spacingAndGlyphs" transform="rotate(-90 541.20 68.80)">Voltage inverse (V<tspan font-size="6" dy="-3">−1</tspan><tspan dy="3">)</tspan></text>
<line x1="582.90" y1="19.00" x2="672.70" y2="112.60" stroke="#222" stroke-width="1"/>
<line x1="589.50" y1="56.50" x2="615.00" y2="56.50" stroke="#a0a0a0" stroke-width="1.1"/>
<path d="M618.00,56.50 L614.80,57.84 L614.80,55.16 Z" stroke="none" stroke-width="1" fill="#a0a0a0"/>
<line x1="621.70" y1="63.50" x2="621.70" y2="125.00" stroke="#b0b0b0" stroke-width="1.1"/>
<path d="M621.70,128.30 L620.27,124.90 L623.13,124.90 Z" stroke="none" stroke-width="1" fill="#a8a8a8"/>
<circle cx="586.40" cy="58.00" r="2.8" fill="#8e5bb0" stroke="#333" stroke-width="0.8"/>
<circle cx="603.90" cy="40.20" r="2.8" fill="#1aa3e0" stroke="#222" stroke-width="0.8"/>
<circle cx="621.20" cy="60.00" r="2.8" fill="#1aa3e0" stroke="#222" stroke-width="0.8"/>
<circle cx="638.20" cy="76.50" r="2.8" fill="#1aa3e0" stroke="#222" stroke-width="0.8"/>
<circle cx="655.60" cy="94.80" r="2.8" fill="#1aa3e0" stroke="#222" stroke-width="0.8"/>
<text x="581.60" y="53.60" font-size="10" text-anchor="middle">1</text>
<text x="610.00" y="36.60" font-size="10" text-anchor="middle">2</text>
<text x="625.50" y="56.50" font-size="10" text-anchor="middle">3</text>
<text x="642.80" y="73.80" font-size="10" text-anchor="middle">4</text>
<text x="662.40" y="93.40" font-size="10" text-anchor="middle">5</text>
<line x1="40.60" y1="201.20" x2="40.60" y2="312.30" stroke="#3a3a3a" stroke-width="1.1"/>
<line x1="40.10" y1="311.80" x2="158.20" y2="311.80" stroke="#3a3a3a" stroke-width="1.1"/>
<line x1="40.60" y1="311.90" x2="43.30" y2="311.90" stroke="#222" stroke-width="1"/>
<text x="32.20" y="314.60" font-size="9" text-anchor="end" fill="#333" textLength="5.00" lengthAdjust="spacingAndGlyphs">0</text>
<line x1="40.60" y1="296.14" x2="43.30" y2="296.14" stroke="#222" stroke-width="1"/>
<text x="32.20" y="298.84" font-size="9" text-anchor="end" fill="#333" textLength="13.40" lengthAdjust="spacingAndGlyphs">0.1</text>
<line x1="40.60" y1="280.38" x2="43.30" y2="280.38" stroke="#222" stroke-width="1"/>
<text x="32.20" y="283.08" font-size="9" text-anchor="end" fill="#333" textLength="13.40" lengthAdjust="spacingAndGlyphs">0.2</text>
<line x1="40.60" y1="264.62" x2="43.30" y2="264.62" stroke="#222" stroke-width="1"/>
<text x="32.20" y="267.32" font-size="9" text-anchor="end" fill="#333" textLength="13.40" lengthAdjust="spacingAndGlyphs">0.3</text>
<line x1="40.60" y1="248.86" x2="43.30" y2="248.86" stroke="#222" stroke-width="1"/>
<text x="32.20" y="251.56" font-size="9" text-anchor="end" fill="#333" textLength="13.40" lengthAdjust="spacingAndGlyphs">0.4</text>
<line x1="40.60" y1="233.10" x2="43.30" y2="233.10" stroke="#222" stroke-width="1"/>
<text x="32.20" y="235.80" font-size="9" text-anchor="end" fill="#333" textLength="13.40" lengthAdjust="spacingAndGlyphs">0.5</text>
<line x1="40.60" y1="217.34" x2="43.30" y2="217.34" stroke="#222" stroke-width="1"/>
<text x="32.20" y="220.04" font-size="9" text-anchor="end" fill="#333" textLength="13.40" lengthAdjust="spacingAndGlyphs">0.6</text>
<line x1="40.60" y1="201.58" x2="43.30" y2="201.58" stroke="#222" stroke-width="1"/>
<text x="32.20" y="204.28" font-size="9" text-anchor="end" fill="#333" textLength="13.40" lengthAdjust="spacingAndGlyphs">0.7</text>
<line x1="40.60" y1="311.80" x2="40.60" y2="309.30" stroke="#222" stroke-width="1"/>
<text x="40.60" y="326.60" font-size="9" text-anchor="middle" fill="#333" textLength="5.20" lengthAdjust="spacingAndGlyphs">0</text>
<line x1="64.12" y1="311.80" x2="64.12" y2="309.30" stroke="#222" stroke-width="1"/>
<text x="64.12" y="326.60" font-size="9" text-anchor="middle" fill="#333" textLength="10.60" lengthAdjust="spacingAndGlyphs">20</text>
<line x1="87.64" y1="311.80" x2="87.64" y2="309.30" stroke="#222" stroke-width="1"/>
<text x="87.64" y="326.60" font-size="9" text-anchor="middle" fill="#333" textLength="10.60" lengthAdjust="spacingAndGlyphs">40</text>
<line x1="111.16" y1="311.80" x2="111.16" y2="309.30" stroke="#222" stroke-width="1"/>
<text x="111.16" y="326.60" font-size="9" text-anchor="middle" fill="#333" textLength="10.60" lengthAdjust="spacingAndGlyphs">60</text>
<line x1="134.68" y1="311.80" x2="134.68" y2="309.30" stroke="#222" stroke-width="1"/>
<text x="134.68" y="326.60" font-size="9" text-anchor="middle" fill="#333" textLength="10.60" lengthAdjust="spacingAndGlyphs">80</text>
<line x1="158.20" y1="311.80" x2="158.20" y2="309.30" stroke="#222" stroke-width="1"/>
<text x="158.20" y="326.60" font-size="9" text-anchor="middle" fill="#333" textLength="16.00" lengthAdjust="spacingAndGlyphs">100</text>
<text x="103.15" y="341.80" font-size="9" text-anchor="middle" fill="#333" textLength="61.70" lengthAdjust="spacingAndGlyphs">Glycol (vol %)</text>
<text x="13.00" y="259.00" font-size="8.6" text-anchor="middle" fill="#333" textLength="59.60" lengthAdjust="spacingAndGlyphs" transform="rotate(-90 13.00 259.00)">k (W/(m · K))</text>
<line x1="211.30" y1="201.20" x2="211.30" y2="312.30" stroke="#3a3a3a" stroke-width="1.1"/>
<line x1="210.80" y1="311.80" x2="329.00" y2="311.80" stroke="#3a3a3a" stroke-width="1.1"/>
<line x1="211.30" y1="311.90" x2="214.00" y2="311.90" stroke="#222" stroke-width="1"/>
<text x="203.00" y="314.60" font-size="9" text-anchor="end" fill="#333" textLength="5.00" lengthAdjust="spacingAndGlyphs">0</text>
<line x1="211.30" y1="296.14" x2="214.00" y2="296.14" stroke="#222" stroke-width="1"/>
<text x="203.00" y="298.84" font-size="9" text-anchor="end" fill="#333" textLength="13.40" lengthAdjust="spacingAndGlyphs">0.1</text>
<line x1="211.30" y1="280.38" x2="214.00" y2="280.38" stroke="#222" stroke-width="1"/>
<text x="203.00" y="283.08" font-size="9" text-anchor="end" fill="#333" textLength="13.40" lengthAdjust="spacingAndGlyphs">0.2</text>
<line x1="211.30" y1="264.62" x2="214.00" y2="264.62" stroke="#222" stroke-width="1"/>
<text x="203.00" y="267.32" font-size="9" text-anchor="end" fill="#333" textLength="13.40" lengthAdjust="spacingAndGlyphs">0.3</text>
<line x1="211.30" y1="248.86" x2="214.00" y2="248.86" stroke="#222" stroke-width="1"/>
<text x="203.00" y="251.56" font-size="9" text-anchor="end" fill="#333" textLength="13.40" lengthAdjust="spacingAndGlyphs">0.4</text>
<line x1="211.30" y1="233.10" x2="214.00" y2="233.10" stroke="#222" stroke-width="1"/>
<text x="203.00" y="235.80" font-size="9" text-anchor="end" fill="#333" textLength="13.40" lengthAdjust="spacingAndGlyphs">0.5</text>
<line x1="211.30" y1="217.34" x2="214.00" y2="217.34" stroke="#222" stroke-width="1"/>
<text x="203.00" y="220.04" font-size="9" text-anchor="end" fill="#333" textLength="13.40" lengthAdjust="spacingAndGlyphs">0.6</text>
<line x1="211.30" y1="201.58" x2="214.00" y2="201.58" stroke="#222" stroke-width="1"/>
<text x="203.00" y="204.28" font-size="9" text-anchor="end" fill="#333" textLength="13.40" lengthAdjust="spacingAndGlyphs">0.7</text>
<line x1="211.30" y1="311.80" x2="211.30" y2="309.30" stroke="#222" stroke-width="1"/>
<text x="211.30" y="326.60" font-size="9" text-anchor="middle" fill="#333" textLength="5.20" lengthAdjust="spacingAndGlyphs">0</text>
<line x1="234.84" y1="311.80" x2="234.84" y2="309.30" stroke="#222" stroke-width="1"/>
<text x="234.84" y="326.60" font-size="9" text-anchor="middle" fill="#333" textLength="10.60" lengthAdjust="spacingAndGlyphs">20</text>
<line x1="258.38" y1="311.80" x2="258.38" y2="309.30" stroke="#222" stroke-width="1"/>
<text x="258.38" y="326.60" font-size="9" text-anchor="middle" fill="#333" textLength="10.60" lengthAdjust="spacingAndGlyphs">40</text>
<line x1="281.92" y1="311.80" x2="281.92" y2="309.30" stroke="#222" stroke-width="1"/>
<text x="281.92" y="326.60" font-size="9" text-anchor="middle" fill="#333" textLength="10.60" lengthAdjust="spacingAndGlyphs">60</text>
<line x1="305.46" y1="311.80" x2="305.46" y2="309.30" stroke="#222" stroke-width="1"/>
<text x="305.46" y="326.60" font-size="9" text-anchor="middle" fill="#333" textLength="10.60" lengthAdjust="spacingAndGlyphs">80</text>
<line x1="329.00" y1="311.80" x2="329.00" y2="309.30" stroke="#222" stroke-width="1"/>
<text x="329.00" y="326.60" font-size="9" text-anchor="middle" fill="#333" textLength="16.00" lengthAdjust="spacingAndGlyphs">100</text>
<text x="286.00" y="341.80" font-size="9" text-anchor="middle" fill="#333" textLength="71.80" lengthAdjust="spacingAndGlyphs">Ethanol (mol %)</text>
<text x="183.40" y="259.00" font-size="8.6" text-anchor="middle" fill="#333" textLength="59.60" lengthAdjust="spacingAndGlyphs" transform="rotate(-90 183.40 259.00)">k (W/(m · K))</text>
<line x1="383.20" y1="203.00" x2="383.20" y2="311.70" stroke="#3a3a3a" stroke-width="1.1"/>
<line x1="382.70" y1="311.20" x2="500.30" y2="311.20" stroke="#3a3a3a" stroke-width="1.1"/>
<line x1="383.20" y1="311.20" x2="385.90" y2="311.20" stroke="#222" stroke-width="1"/>
<text x="374.30" y="313.90" font-size="9" text-anchor="end" fill="#333" textLength="13.40" lengthAdjust="spacingAndGlyphs">0.0</text>
<line x1="383.20" y1="295.74" x2="385.90" y2="295.74" stroke="#222" stroke-width="1"/>
<text x="374.30" y="298.44" font-size="9" text-anchor="end" fill="#333" textLength="13.40" lengthAdjust="spacingAndGlyphs">0.1</text>
<line x1="383.20" y1="280.28" x2="385.90" y2="280.28" stroke="#222" stroke-width="1"/>
<text x="374.30" y="282.98" font-size="9" text-anchor="end" fill="#333" textLength="13.40" lengthAdjust="spacingAndGlyphs">0.2</text>
<line x1="383.20" y1="264.82" x2="385.90" y2="264.82" stroke="#222" stroke-width="1"/>
<text x="374.30" y="267.52" font-size="9" text-anchor="end" fill="#333" textLength="13.40" lengthAdjust="spacingAndGlyphs">0.3</text>
<line x1="383.20" y1="249.36" x2="385.90" y2="249.36" stroke="#222" stroke-width="1"/>
<text x="374.30" y="252.06" font-size="9" text-anchor="end" fill="#333" textLength="13.40" lengthAdjust="spacingAndGlyphs">0.4</text>
<line x1="383.20" y1="233.90" x2="385.90" y2="233.90" stroke="#222" stroke-width="1"/>
<text x="374.30" y="236.60" font-size="9" text-anchor="end" fill="#333" textLength="13.40" lengthAdjust="spacingAndGlyphs">0.5</text>
<line x1="383.20" y1="218.44" x2="385.90" y2="218.44" stroke="#222" stroke-width="1"/>
<text x="374.30" y="221.14" font-size="9" text-anchor="end" fill="#333" textLength="13.40" lengthAdjust="spacingAndGlyphs">0.6</text>
<line x1="383.20" y1="202.98" x2="385.90" y2="202.98" stroke="#222" stroke-width="1"/>
<text x="374.30" y="205.68" font-size="9" text-anchor="end" fill="#333" textLength="13.40" lengthAdjust="spacingAndGlyphs">0.7</text>
<line x1="383.20" y1="311.20" x2="383.20" y2="308.70" stroke="#222" stroke-width="1"/>
<text x="383.20" y="326.60" font-size="9" text-anchor="middle" fill="#333" textLength="5.20" lengthAdjust="spacingAndGlyphs">0</text>
<line x1="406.62" y1="311.20" x2="406.62" y2="308.70" stroke="#222" stroke-width="1"/>
<text x="406.62" y="326.60" font-size="9" text-anchor="middle" fill="#333" textLength="10.60" lengthAdjust="spacingAndGlyphs">20</text>
<line x1="430.04" y1="311.20" x2="430.04" y2="308.70" stroke="#222" stroke-width="1"/>
<text x="430.04" y="326.60" font-size="9" text-anchor="middle" fill="#333" textLength="10.60" lengthAdjust="spacingAndGlyphs">40</text>
<line x1="453.46" y1="311.20" x2="453.46" y2="308.70" stroke="#222" stroke-width="1"/>
<text x="453.46" y="326.60" font-size="9" text-anchor="middle" fill="#333" textLength="10.60" lengthAdjust="spacingAndGlyphs">60</text>
<line x1="476.88" y1="311.20" x2="476.88" y2="308.70" stroke="#222" stroke-width="1"/>
<text x="476.88" y="326.60" font-size="9" text-anchor="middle" fill="#333" textLength="10.60" lengthAdjust="spacingAndGlyphs">80</text>
<line x1="500.30" y1="311.20" x2="500.30" y2="308.70" stroke="#222" stroke-width="1"/>
<text x="500.30" y="326.60" font-size="9" text-anchor="middle" fill="#333" textLength="16.00" lengthAdjust="spacingAndGlyphs">100</text>
<text x="449.70" y="341.80" font-size="9" text-anchor="middle" fill="#333" textLength="68.60" lengthAdjust="spacingAndGlyphs">Glycerol (wt %)</text>
<text x="353.90" y="258.20" font-size="8.6" text-anchor="middle" fill="#333" textLength="61.00" lengthAdjust="spacingAndGlyphs" transform="rotate(-90 353.90 258.20)">k (W/(m · K))</text>
<line x1="556.40" y1="203.00" x2="556.40" y2="312.30" stroke="#3a3a3a" stroke-width="1.1"/>
<line x1="555.90" y1="311.80" x2="670.70" y2="311.80" stroke="#3a3a3a" stroke-width="1.1"/>
<line x1="556.40" y1="311.80" x2="559.10" y2="311.80" stroke="#222" stroke-width="1"/>
<text x="548.00" y="314.50" font-size="9" text-anchor="end" fill="#333" textLength="19.40" lengthAdjust="spacingAndGlyphs">0.60</text>
<line x1="556.40" y1="284.68" x2="559.10" y2="284.68" stroke="#222" stroke-width="1"/>
<text x="548.00" y="287.38" font-size="9" text-anchor="end" fill="#333" textLength="19.40" lengthAdjust="spacingAndGlyphs">0.65</text>
<line x1="556.40" y1="257.55" x2="559.10" y2="257.55" stroke="#222" stroke-width="1"/>
<text x="548.00" y="260.25" font-size="9" text-anchor="end" fill="#333" textLength="19.40" lengthAdjust="spacingAndGlyphs">0.70</text>
<line x1="556.40" y1="230.43" x2="559.10" y2="230.43" stroke="#222" stroke-width="1"/>
<text x="548.00" y="233.12" font-size="9" text-anchor="end" fill="#333" textLength="19.40" lengthAdjust="spacingAndGlyphs">0.75</text>
<line x1="556.40" y1="203.30" x2="559.10" y2="203.30" stroke="#222" stroke-width="1"/>
<text x="548.00" y="206.00" font-size="9" text-anchor="end" fill="#333" textLength="19.40" lengthAdjust="spacingAndGlyphs">0.80</text>
<line x1="556.40" y1="311.80" x2="556.40" y2="309.30" stroke="#222" stroke-width="1"/>
<text x="556.40" y="326.60" font-size="9" text-anchor="middle" fill="#333" textLength="5.20" lengthAdjust="spacingAndGlyphs">0</text>
<line x1="575.46" y1="311.80" x2="575.46" y2="309.30" stroke="#222" stroke-width="1"/>
<text x="575.46" y="326.60" font-size="9" text-anchor="middle" fill="#333" textLength="13.40" lengthAdjust="spacingAndGlyphs">0.2</text>
<line x1="594.52" y1="311.80" x2="594.52" y2="309.30" stroke="#222" stroke-width="1"/>
<text x="594.52" y="326.60" font-size="9" text-anchor="middle" fill="#333" textLength="13.40" lengthAdjust="spacingAndGlyphs">0.4</text>
<line x1="613.58" y1="311.80" x2="613.58" y2="309.30" stroke="#222" stroke-width="1"/>
<text x="613.58" y="326.60" font-size="9" text-anchor="middle" fill="#333" textLength="13.40" lengthAdjust="spacingAndGlyphs">0.6</text>
<line x1="632.64" y1="311.80" x2="632.64" y2="309.30" stroke="#222" stroke-width="1"/>
<text x="632.64" y="326.60" font-size="9" text-anchor="middle" fill="#333" textLength="13.40" lengthAdjust="spacingAndGlyphs">0.8</text>
<line x1="651.70" y1="311.80" x2="651.70" y2="309.30" stroke="#222" stroke-width="1"/>
<text x="651.70" y="326.60" font-size="9" text-anchor="middle" fill="#333" textLength="5.20" lengthAdjust="spacingAndGlyphs">1</text>
<line x1="670.76" y1="311.80" x2="670.76" y2="309.30" stroke="#222" stroke-width="1"/>
<text x="670.76" y="326.60" font-size="9" text-anchor="middle" fill="#333" textLength="13.40" lengthAdjust="spacingAndGlyphs">1.2</text>
<text x="623.90" y="341.80" font-size="9" text-anchor="middle" fill="#333" textLength="109.00" lengthAdjust="spacingAndGlyphs">GO concentration (wt %)</text>
<text x="522.10" y="258.60" font-size="8.6" text-anchor="middle" fill="#333" textLength="60.40" lengthAdjust="spacingAndGlyphs" transform="rotate(-90 522.10 258.60)">k (W/(m · K))</text>
<path d="M40.60,213.54 L42.59,215.24 L44.59,216.92 L46.58,218.57 L48.57,220.20 L50.57,221.80 L52.56,223.38 L54.55,224.93 L56.55,226.46 L58.54,227.96 L60.53,229.44 L62.53,230.89 L64.52,232.32 L66.51,233.72 L68.51,235.10 L70.50,236.46 L72.49,237.79 L74.48,239.09 L76.48,240.37 L78.47,241.63 L80.46,242.86 L82.46,244.06 L84.45,245.24 L86.44,246.40 L88.44,247.53 L90.43,248.64 L92.42,249.72 L94.42,250.78 L96.41,251.81 L98.40,252.82 L100.40,253.80 L102.39,254.76 L104.38,255.69 L106.38,256.60 L108.37,257.49 L110.36,258.34 L112.36,259.18 L114.35,259.99 L116.34,260.77 L118.34,261.53 L120.33,262.27 L122.32,262.98 L124.32,263.67 L126.31,264.33 L128.30,264.96 L130.29,265.57 L132.29,266.16 L134.28,266.72 L136.27,267.26 L138.27,267.77 L140.26,268.26 L142.25,268.72 L144.25,269.16 L146.24,269.58 L148.23,269.97 L150.23,270.33 L152.22,270.67 L154.21,270.98 L156.21,271.27 L158.20,271.54" stroke="#111" stroke-width="1.1" fill="none"/>
<path d="M40.60,214.27 L42.59,216.12 L44.59,217.94 L46.58,219.74 L48.57,221.51 L50.57,223.26 L52.56,224.98 L54.55,226.68 L56.55,228.35 L58.54,230.00 L60.53,231.63 L62.53,233.23 L64.52,234.80 L66.51,236.35 L68.51,237.88 L70.50,239.38 L72.49,240.86 L74.48,242.31 L76.48,243.73 L78.47,245.14 L80.46,246.51 L82.46,247.87 L84.45,249.20 L86.44,250.50 L88.44,251.78 L90.43,253.03 L92.42,254.26 L94.42,255.47 L96.41,256.65 L98.40,257.80 L100.40,258.93 L102.39,260.04 L104.38,261.12 L106.38,262.18 L108.37,263.21 L110.36,264.22 L112.36,265.20 L114.35,266.16 L116.34,267.09 L118.34,268.00 L120.33,268.89 L122.32,269.74 L124.32,270.58 L126.31,271.39 L128.30,272.17 L130.29,272.93 L132.29,273.67 L134.28,274.38 L136.27,275.07 L138.27,275.73 L140.26,276.37 L142.25,276.98 L144.25,277.57 L146.24,278.13 L148.23,278.67 L150.23,279.18 L152.22,279.67 L154.21,280.14 L156.21,280.58 L158.20,280.99" stroke="#111" stroke-width="1.1" fill="none"/>
<circle cx="40.60" cy="214.19" r="2.1" fill="#00a651" stroke="#0b2e17" stroke-width="0.8"/>
<circle cx="52.36" cy="221.12" r="2.1" fill="#00a651" stroke="#0b2e17" stroke-width="0.8"/>
<circle cx="64.12" cy="234.68" r="2.1" fill="#00a651" stroke="#0b2e17" stroke-width="0.8"/>
<circle cx="75.88" cy="238.46" r="2.1" fill="#00a651" stroke="#0b2e17" stroke-width="0.8"/>
<circle cx="87.64" cy="246.34" r="2.1" fill="#00a651" stroke="#0b2e17" stroke-width="0.8"/>
<circle cx="99.40" cy="254.69" r="2.1" fill="#00a651" stroke="#0b2e17" stroke-width="0.8"/>
<circle cx="111.16" cy="259.42" r="2.1" fill="#00a651" stroke="#0b2e17" stroke-width="0.8"/>
<circle cx="122.92" cy="262.57" r="2.1" fill="#00a651" stroke="#0b2e17" stroke-width="0.8"/>
<circle cx="134.68" cy="266.20" r="2.1" fill="#00a651" stroke="#0b2e17" stroke-width="0.8"/>
<circle cx="146.44" cy="269.35" r="2.1" fill="#00a651" stroke="#0b2e17" stroke-width="0.8"/>
<circle cx="158.20" cy="272.03" r="2.1" fill="#00a651" stroke="#0b2e17" stroke-width="0.8"/>
<path d="M40.60,211.29 L43.20,215.79 L38.00,215.79 Z" stroke="#1a1a1a" stroke-width="0.7" fill="#ffff00" stroke-linejoin="round"/>
<path d="M52.36,222.32 L54.96,226.82 L49.76,226.82 Z" stroke="#1a1a1a" stroke-width="0.7" fill="#ffff00" stroke-linejoin="round"/>
<path d="M64.12,232.25 L66.72,236.75 L61.52,236.75 Z" stroke="#1a1a1a" stroke-width="0.7" fill="#ffff00" stroke-linejoin="round"/>
<path d="M75.88,238.71 L78.48,243.21 L73.28,243.21 Z" stroke="#1a1a1a" stroke-width="0.7" fill="#ffff00" stroke-linejoin="round"/>
<path d="M87.64,247.54 L90.24,252.04 L85.04,252.04 Z" stroke="#1a1a1a" stroke-width="0.7" fill="#ffff00" stroke-linejoin="round"/>
<path d="M99.40,256.99 L102.00,261.49 L96.80,261.49 Z" stroke="#1a1a1a" stroke-width="0.7" fill="#ffff00" stroke-linejoin="round"/>
<path d="M111.16,261.72 L113.76,266.22 L108.56,266.22 Z" stroke="#1a1a1a" stroke-width="0.7" fill="#ffff00" stroke-linejoin="round"/>
<path d="M122.92,268.34 L125.52,272.84 L120.32,272.84 Z" stroke="#1a1a1a" stroke-width="0.7" fill="#ffff00" stroke-linejoin="round"/>
<path d="M134.68,271.18 L137.28,275.68 L132.08,275.68 Z" stroke="#1a1a1a" stroke-width="0.7" fill="#ffff00" stroke-linejoin="round"/>
<path d="M146.44,273.54 L149.04,278.04 L143.84,278.04 Z" stroke="#1a1a1a" stroke-width="0.7" fill="#ffff00" stroke-linejoin="round"/>
<path d="M158.20,279.06 L160.80,283.56 L155.60,283.56 Z" stroke="#1a1a1a" stroke-width="0.7" fill="#ffff00" stroke-linejoin="round"/>
<circle cx="74.60" cy="206.60" r="2.2" fill="#00a651" stroke="#0b2e17" stroke-width="0.9"/>
<path d="M74.6,215.8 L77.55,221.7 L71.65,221.7 Z" stroke="#1a1a1a" stroke-width="0.8" fill="#ffff00" stroke-linejoin="round"/>
<text x="83.20" y="209.80" font-size="8" fill="#333" textLength="73.30" lengthAdjust="spacingAndGlyphs">Ethylene glycol (aq)</text>
<text x="83.20" y="222.50" font-size="8" fill="#333" textLength="76.50" lengthAdjust="spacingAndGlyphs">Propylene glycol (aq)</text>
<path d="M211.30,217.34 L212.79,220.24 L214.28,223.02 L215.77,225.68 L217.26,228.23 L218.75,230.68 L220.24,233.03 L221.73,235.28 L223.22,237.43 L224.71,239.50 L226.20,241.48 L227.69,243.38 L229.18,245.20 L230.67,246.95 L232.16,248.62 L233.65,250.23 L235.14,251.77 L236.63,253.24 L238.12,254.66 L239.61,256.01 L241.10,257.31 L242.59,258.56 L244.08,259.75 L245.57,260.90 L247.06,262.00 L248.55,263.05 L250.04,264.06 L251.53,265.03 L253.02,265.95 L254.51,266.84 L256.00,267.69 L257.49,268.51 L258.98,269.29 L260.47,270.05 L261.96,270.77 L263.45,271.46 L264.94,272.12 L266.43,272.75 L267.92,273.36 L269.41,273.94 L270.89,274.50 L272.38,275.04 L273.87,275.55 L275.36,276.04 L276.85,276.52 L278.34,276.97 L279.83,277.40 L281.32,277.82 L282.81,278.22 L284.30,278.60 L285.79,278.97 L287.28,279.32 L288.77,279.66 L290.26,279.98 L291.75,280.29 L293.24,280.58 L294.73,280.87 L296.22,281.14 L297.71,281.40 L299.20,281.65 L300.69,281.89 L302.18,282.12 L303.67,282.35 L305.16,282.56 L306.65,282.76 L308.14,282.96 L309.63,283.14 L311.12,283.32 L312.61,283.49 L314.10,283.66 L315.59,283.81 L317.08,283.97 L318.57,284.11 L320.06,284.25 L321.55,284.38 L323.04,284.51 L324.53,284.63 L326.02,284.75 L327.51,284.86 L329.00,284.97" stroke="#111" stroke-width="1" fill="none"/>
<line x1="211.30" y1="214.74" x2="211.30" y2="219.94" stroke="#111" stroke-width="0.8"/>
<path d="M211.30,214.44 L213.90,218.94 L208.70,218.94 Z" stroke="#1f4f70" stroke-width="0.7" fill="#22a8e8" stroke-linejoin="round"/>
<line x1="223.07" y1="233.97" x2="223.07" y2="239.17" stroke="#111" stroke-width="0.8"/>
<path d="M223.07,233.67 L225.67,238.17 L220.47,238.17 Z" stroke="#1f4f70" stroke-width="0.7" fill="#22a8e8" stroke-linejoin="round"/>
<line x1="234.84" y1="249.73" x2="234.84" y2="254.93" stroke="#111" stroke-width="0.8"/>
<path d="M234.84,249.43 L237.44,253.93 L232.24,253.93 Z" stroke="#1f4f70" stroke-width="0.7" fill="#22a8e8" stroke-linejoin="round"/>
<line x1="246.61" y1="256.82" x2="246.61" y2="262.02" stroke="#111" stroke-width="0.8"/>
<path d="M246.61,256.52 L249.21,261.02 L244.01,261.02 Z" stroke="#1f4f70" stroke-width="0.7" fill="#22a8e8" stroke-linejoin="round"/>
<line x1="258.38" y1="267.85" x2="258.38" y2="273.05" stroke="#111" stroke-width="0.8"/>
<path d="M258.38,267.55 L260.98,272.05 L255.78,272.05 Z" stroke="#1f4f70" stroke-width="0.7" fill="#22a8e8" stroke-linejoin="round"/>
<line x1="270.15" y1="273.05" x2="270.15" y2="278.25" stroke="#111" stroke-width="0.8"/>
<path d="M270.15,272.75 L272.75,277.25 L267.55,277.25 Z" stroke="#1f4f70" stroke-width="0.7" fill="#22a8e8" stroke-linejoin="round"/>
<line x1="281.92" y1="275.42" x2="281.92" y2="280.62" stroke="#111" stroke-width="0.8"/>
<path d="M281.92,275.12 L284.52,279.62 L279.32,279.62 Z" stroke="#1f4f70" stroke-width="0.7" fill="#22a8e8" stroke-linejoin="round"/>
<line x1="293.69" y1="279.36" x2="293.69" y2="284.56" stroke="#111" stroke-width="0.8"/>
<path d="M293.69,279.06 L296.29,283.56 L291.09,283.56 Z" stroke="#1f4f70" stroke-width="0.7" fill="#22a8e8" stroke-linejoin="round"/>
<line x1="305.46" y1="279.67" x2="305.46" y2="284.87" stroke="#111" stroke-width="0.8"/>
<path d="M305.46,279.37 L308.06,283.87 L302.86,283.87 Z" stroke="#1f4f70" stroke-width="0.7" fill="#22a8e8" stroke-linejoin="round"/>
<line x1="317.23" y1="282.04" x2="317.23" y2="287.24" stroke="#111" stroke-width="0.8"/>
<path d="M317.23,281.74 L319.83,286.24 L314.63,286.24 Z" stroke="#1f4f70" stroke-width="0.7" fill="#22a8e8" stroke-linejoin="round"/>
<line x1="329.00" y1="283.30" x2="329.00" y2="288.50" stroke="#111" stroke-width="0.8"/>
<path d="M329.00,283.00 L331.60,287.50 L326.40,287.50 Z" stroke="#1f4f70" stroke-width="0.7" fill="#22a8e8" stroke-linejoin="round"/>
<path d="M270.10,208.90 L272.70,213.40 L267.50,213.40 Z" stroke="#1f4f70" stroke-width="0.7" fill="#22a8e8" stroke-linejoin="round"/>
<text x="277.20" y="213.80" font-size="8" fill="#333" textLength="46.30" lengthAdjust="spacingAndGlyphs">Ethanol (aq)</text>
<path d="M383.20,218.47 L384.68,219.30 L386.16,220.12 L387.65,220.94 L389.13,221.75 L390.61,222.56 L392.09,223.36 L393.58,224.16 L395.06,224.95 L396.54,225.73 L398.02,226.51 L399.51,227.29 L400.99,228.06 L402.47,228.83 L403.95,229.59 L405.43,230.34 L406.92,231.10 L408.40,231.84 L409.88,232.58 L411.36,233.32 L412.85,234.05 L414.33,234.77 L415.81,235.49 L417.29,236.21 L418.77,236.92 L420.26,237.62 L421.74,238.32 L423.22,239.02 L424.70,239.71 L426.19,240.39 L427.67,241.07 L429.15,241.75 L430.63,242.42 L432.12,243.08 L433.60,243.74 L435.08,244.39 L436.56,245.04 L438.04,245.69 L439.53,246.33 L441.01,246.96 L442.49,247.59 L443.97,248.21 L445.46,248.83 L446.94,249.45 L448.42,250.05 L449.90,250.66 L451.38,251.26 L452.87,251.85 L454.35,252.44 L455.83,253.02 L457.31,253.60 L458.80,254.17 L460.28,254.74 L461.76,255.30 L463.24,255.86 L464.73,256.41 L466.21,256.96 L467.69,257.50 L469.17,258.04 L470.65,258.57 L472.14,259.10 L473.62,259.62 L475.10,260.14 L476.58,260.65 L478.07,261.16 L479.55,261.66 L481.03,262.16 L482.51,262.65 L483.99,263.14 L485.48,263.62 L486.96,264.10 L488.44,264.57 L489.92,265.03 L491.41,265.50 L492.89,265.95 L494.37,266.40 L495.85,266.85 L497.34,267.29 L498.82,267.73 L500.30,268.16" stroke="#111" stroke-width="1" fill="none"/>
<path d="M383.20,216.04 L385.60,218.44 L383.20,220.84 L380.80,218.44 Z" stroke="#333" stroke-width="0.6" fill="#e00000"/>
<path d="M394.91,223.00 L397.31,225.40 L394.91,227.80 L392.51,225.40 Z" stroke="#333" stroke-width="0.6" fill="#e00000"/>
<path d="M406.62,229.18 L409.02,231.58 L406.62,233.98 L404.22,231.58 Z" stroke="#333" stroke-width="0.6" fill="#e00000"/>
<path d="M418.33,233.36 L420.73,235.76 L418.33,238.16 L415.93,235.76 Z" stroke="#333" stroke-width="0.6" fill="#e00000"/>
<path d="M430.04,238.92 L432.44,241.32 L430.04,243.72 L427.64,241.32 Z" stroke="#333" stroke-width="0.6" fill="#e00000"/>
<path d="M441.75,243.09 L444.15,245.50 L441.75,247.90 L439.35,245.50 Z" stroke="#333" stroke-width="0.6" fill="#e00000"/>
<path d="M453.46,251.60 L455.86,254.00 L453.46,256.40 L451.06,254.00 Z" stroke="#333" stroke-width="0.6" fill="#e00000"/>
<path d="M465.17,255.77 L467.57,258.17 L465.17,260.57 L462.77,258.17 Z" stroke="#333" stroke-width="0.6" fill="#e00000"/>
<path d="M476.88,257.01 L479.28,259.41 L476.88,261.81 L474.48,259.41 Z" stroke="#333" stroke-width="0.6" fill="#e00000"/>
<path d="M488.59,263.50 L490.99,265.90 L488.59,268.30 L486.19,265.90 Z" stroke="#333" stroke-width="0.6" fill="#e00000"/>
<path d="M500.30,264.74 L502.70,267.14 L500.30,269.54 L497.90,267.14 Z" stroke="#333" stroke-width="0.6" fill="#e00000"/>
<path d="M438.00,208.60 L440.40,211.00 L438.00,213.40 L435.60,211.00 Z" stroke="#333" stroke-width="0.6" fill="#e00000"/>
<text x="442.40" y="213.80" font-size="8" fill="#333" textLength="47.00" lengthAdjust="spacingAndGlyphs">Glycerol (aq)</text>
<path d="M565.93,290.37 L567.38,287.92 L568.84,286.17 L570.29,284.61 L571.74,283.16 L573.20,281.79 L574.65,280.47 L576.11,279.21 L577.56,277.98 L579.01,276.79 L580.47,275.63 L581.92,274.49 L583.37,273.38 L584.83,272.28 L586.28,271.20 L587.74,270.14 L589.19,269.10 L590.64,268.07 L592.10,267.05 L593.55,266.05 L595.00,265.06 L596.46,264.07 L597.91,263.10 L599.37,262.14 L600.82,261.19 L602.27,260.24 L603.73,259.31 L605.18,258.38 L606.63,257.46 L608.09,256.55 L609.54,255.64 L611.00,254.74 L612.45,253.85 L613.90,252.96 L615.36,252.08 L616.81,251.20 L618.26,250.33 L619.72,249.47 L621.17,248.61 L622.63,247.75 L624.08,246.90 L625.53,246.06 L626.99,245.22 L628.44,244.38 L629.89,243.55 L631.35,242.72 L632.80,241.90 L634.26,241.08 L635.71,240.26 L637.16,239.45 L638.62,238.64 L640.07,237.83 L641.52,237.03 L642.98,236.23 L644.43,235.44 L645.89,234.65 L647.34,233.86 L648.79,233.07 L650.25,232.29 L651.70,231.51" stroke="#111" stroke-width="1" fill="none"/>
<rect x="554.20" y="305.26" width="4.40" height="4.40" fill="#5a5a5a" stroke="#333" stroke-width="0.6" rx="0.7"/>
<rect x="563.73" y="288.44" width="4.40" height="4.40" fill="#5a5a5a" stroke="#333" stroke-width="0.6" rx="0.7"/>
<rect x="563.73" y="289.53" width="4.40" height="4.40" fill="#5a5a5a" stroke="#333" stroke-width="0.6" rx="0.7"/>
<rect x="573.26" y="275.69" width="4.40" height="4.40" fill="#5a5a5a" stroke="#333" stroke-width="0.6" rx="0.7"/>
<rect x="582.79" y="274.34" width="4.40" height="4.40" fill="#5a5a5a" stroke="#333" stroke-width="0.6" rx="0.7"/>
<rect x="592.32" y="263.49" width="4.40" height="4.40" fill="#5a5a5a" stroke="#333" stroke-width="0.6" rx="0.7"/>
<rect x="601.85" y="255.35" width="4.40" height="4.40" fill="#5a5a5a" stroke="#333" stroke-width="0.6" rx="0.7"/>
<rect x="611.38" y="251.28" width="4.40" height="4.40" fill="#5a5a5a" stroke="#333" stroke-width="0.6" rx="0.7"/>
<rect x="620.91" y="245.04" width="4.40" height="4.40" fill="#5a5a5a" stroke="#333" stroke-width="0.6" rx="0.7"/>
<rect x="630.44" y="240.70" width="4.40" height="4.40" fill="#5a5a5a" stroke="#333" stroke-width="0.6" rx="0.7"/>
<rect x="630.44" y="242.33" width="4.40" height="4.40" fill="#5a5a5a" stroke="#333" stroke-width="0.6" rx="0.7"/>
<rect x="639.97" y="231.48" width="4.40" height="4.40" fill="#5a5a5a" stroke="#333" stroke-width="0.6" rx="0.7"/>
<rect x="649.50" y="231.48" width="4.40" height="4.40" fill="#5a5a5a" stroke="#333" stroke-width="0.6" rx="0.7"/>
<rect x="649.50" y="234.19" width="4.40" height="4.40" fill="#5a5a5a" stroke="#333" stroke-width="0.6" rx="0.7"/>
<rect x="576.30" y="206.90" width="4.20" height="4.20" fill="#3f4452" stroke="none" stroke-width="1" rx="0"/>
<text x="582.70" y="211.80" font-size="8" fill="#333" textLength="74.70" lengthAdjust="spacingAndGlyphs">Graphene oxide (aq)</text>
</svg>
</body></html>
